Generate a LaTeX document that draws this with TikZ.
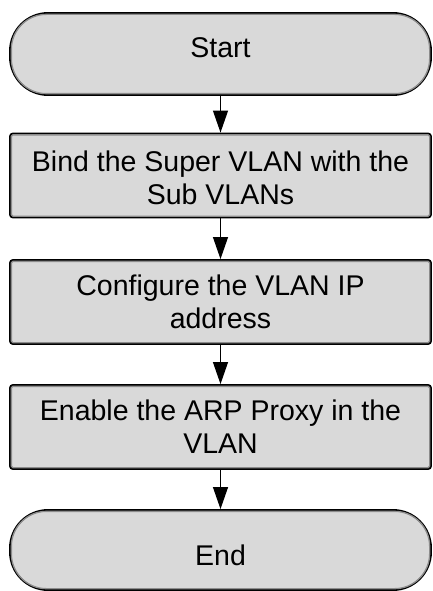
\documentclass[tikz,border=0pt]{standalone}
\usepackage{fontspec}
\setmainfont{Liberation Sans}
\usetikzlibrary{arrows.meta}
\definecolor{boxfill}{HTML}{D9D9D9}
\definecolor{innerline}{HTML}{8C8C8C}
\tikzset{
  shapebase/.style={draw=black, line width=1.9pt, fill=boxfill, minimum width=421pt,
    inner sep=0pt, align=center, font=\fontsize{28.5}{33}\selectfont},
  terminal/.style={shapebase, rounded corners=38pt, minimum height=82pt},
  stepbox/.style={shapebase, rounded corners=3pt, minimum height=84pt},
  innerterm/.style={draw=innerline, line width=1.3pt, rounded corners=35pt},
  innerbox/.style={draw=innerline, line width=1.3pt, rounded corners=1.5pt},
  flow/.style={draw=black, line width=1.2pt, -{Triangle[length=22pt,width=15pt]}}
}
\begin{document}
\begin{tikzpicture}[x=1pt,y=-1pt]
\useasboundingbox (0,0) rectangle (432,591);
\fill[white] (0,0) rectangle (432,591);
\node[terminal] (start) at (220.5,54) {\raisebox{6pt}[\height][\depth]{Start}};
\node[stepbox] (b1) at (220.5,175.5) {\raisebox{-2pt}[\height][\depth]{Bind the Super VLAN with the}\\\raisebox{-2pt}[\height][\depth]{Sub VLANs}};
\node[stepbox] (b2) at (220.5,302) {Configure the VLAN IP\\address};
\node[stepbox] (b3) at (220.5,427) {Enable the ARP Proxy in the\\VLAN};
\node[terminal, minimum height=80pt] (end) at (220.5,550) {\raisebox{-5pt}[\height][\depth]{End}};
% inner grey borders
\foreach \n in {start,end}{
  \draw[innerterm] ([shift={(2.3pt,-2.3pt)}]\n.north west) rectangle ([shift={(-2.3pt,2.3pt)}]\n.south east);
}
\foreach \n in {b1,b2,b3}{
  \draw[innerbox] ([shift={(2.3pt,-2.3pt)}]\n.north west) rectangle ([shift={(-2.3pt,2.3pt)}]\n.south east);
}
\draw[flow] (start.south) -- (b1.north);
\draw[flow] (b1.south) -- (b2.north);
\draw[flow] (b2.south) -- (b3.north);
\draw[flow] (b3.south) -- (end.north);
\end{tikzpicture}
\end{document}
